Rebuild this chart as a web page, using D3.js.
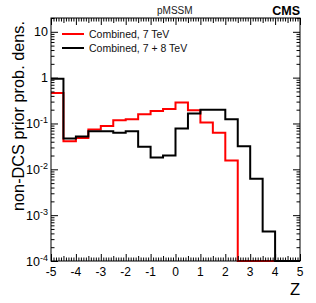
<!DOCTYPE html>
<html>
<head>
<meta charset="utf-8">
<script src="https://cdn.jsdelivr.net/npm/d3@7"></script>
<style>
  body { margin: 0; background: #fff; }
  svg text { font-family: "Liberation Sans", Arial, Helvetica, sans-serif; }
</style>
</head>
<body>
<div id="chart"></div>
<script>
// bin lower edges in Z (bin width 0.5)
const binEdges = [-5, -4.5, -4, -3.5, -3, -2.5, -2, -1.5, -1, -0.5, 0, 0.5, 1, 1.5, 2, 2.5, 3, 3.5, 4, 4.5, 5];

const red7 = [0.46, 0.041, 0.048, 0.074, 0.088, 0.117, 0.123, 0.159, 0.188, 0.208,
              0.287, 0.195, 0.105, 0.063, 0.0156, 0, 0, 0, 0, 0];
const black78 = [0.95, 0.047, 0.052, 0.068, 0.068, 0.063, 0.068, 0.031, 0.018, 0.020,
                 0.078, 0.165, 0.2, 0.2, 0.123, 0.032, 0.0062, 0.00044, 0, 0];

const legendLabels = ["Combined, 7 TeV", "Combined, 7 + 8 TeV"];
const xTickLabels = [-5, -4, -3, -2, -1, 0, 1, 2, 3, 4, 5];
const yDecades = [1e-4, 1e-3, 1e-2, 1e-1, 1, 10];

const width = 316, height = 303;
const frame = { left: 51, right: 300, top: 18, bottom: 261 };

const svg = d3.select("#chart").append("svg")
    .attr("width", width)
    .attr("height", height);

const x = d3.scaleLinear().domain([-5, 5]).range([frame.left, frame.right]);
const y = d3.scaleLog().domain([1e-4, 20]).range([frame.bottom, frame.top]);
const yMin = 1e-4;

svg.append("clipPath").attr("id", "clip")
    .append("rect")
    .attr("x", frame.left - 1)
    .attr("y", frame.top)
    .attr("width", frame.right - frame.left + 2)
    .attr("height", frame.bottom - frame.top + 1);

// histogram outline as a step line
function histPath(values) {
    const pts = [];
    values.forEach((v, i) => {
        const yy = y(Math.max(v, yMin));
        pts.push([x(binEdges[i]), yy]);
        pts.push([x(binEdges[i + 1]), yy]);
    });
    return d3.line()(pts);
}

const plot = svg.append("g").attr("clip-path", "url(#clip)");

plot.append("path")
    .attr("d", histPath(red7))
    .attr("fill", "none")
    .attr("stroke", "#ff0000")
    .attr("stroke-width", 2);

plot.append("path")
    .attr("d", histPath(black78))
    .attr("fill", "none")
    .attr("stroke", "#000")
    .attr("stroke-width", 2);

// minor tick positions
const xMinor = d3.range(-50, 51).map(d => d / 10).filter(d => Math.abs(d * 2 - Math.round(d * 2)) > 1e-6);
const xMedium = d3.range(-9, 10, 2).map(d => d / 2);
const yMinor = [];
yDecades.forEach(dec => {
    for (let k = 2; k <= 9; k++) {
        const v = dec * k;
        if (v <= 20) yMinor.push(v);
    }
});

function tickAxis(axisFn, scale, values, size, transform) {
    svg.append("g")
        .attr("transform", transform)
        .call(axisFn(scale).tickValues(values).tickSize(size).tickFormat(""))
        .call(g => g.select(".domain").remove())
        .selectAll("line").attr("stroke", "#000").attr("stroke-width", 1);
}

// bottom and top ticks (inward)
tickAxis(d3.axisBottom, x, xTickLabels, -7, `translate(0,${frame.bottom})`);
tickAxis(d3.axisBottom, x, xMedium, -5, `translate(0,${frame.bottom})`);
tickAxis(d3.axisBottom, x, xMinor, -3.5, `translate(0,${frame.bottom})`);
tickAxis(d3.axisTop, x, xTickLabels, -7, `translate(0,${frame.top})`);
tickAxis(d3.axisTop, x, xMedium, -5, `translate(0,${frame.top})`);
tickAxis(d3.axisTop, x, xMinor, -3.5, `translate(0,${frame.top})`);

// left and right ticks (inward)
tickAxis(d3.axisLeft, y, yDecades, -7, `translate(${frame.left},0)`);
tickAxis(d3.axisLeft, y, yMinor, -3.5, `translate(${frame.left},0)`);
tickAxis(d3.axisRight, y, yDecades, -7, `translate(${frame.right},0)`);
tickAxis(d3.axisRight, y, yMinor, -3.5, `translate(${frame.right},0)`);

// frame
svg.append("rect")
    .attr("x", frame.left)
    .attr("y", frame.top)
    .attr("width", frame.right - frame.left)
    .attr("height", frame.bottom - frame.top)
    .attr("fill", "none")
    .attr("stroke", "#000")
    .attr("stroke-width", 1);

// x tick labels
svg.append("g").selectAll("text")
    .data(xTickLabels)
    .enter()
    .append("text")
    .attr("x", d => x(d))
    .attr("y", 276)
    .attr("text-anchor", "middle")
    .style("font-size", "12px")
    .text(d => d);

// y tick labels with superscripts
const yLab = svg.append("g").selectAll("text")
    .data(yDecades)
    .enter()
    .append("text")
    .attr("x", 48)
    .attr("y", d => y(d) + 4.5)
    .attr("text-anchor", "end")
    .style("font-size", "12.5px");

yLab.each(function (d) {
    const t = d3.select(this);
    const p = Math.round(Math.log10(d));
    if (p === 0) {
        t.text("1");
    } else if (p === 1) {
        t.text("10");
    } else {
        t.append("tspan").text("10");
        t.append("tspan")
            .attr("dy", -5)
            .style("font-size", "9px")
            .text(p);
    }
});

// axis titles
svg.append("text")
    .attr("x", 300)
    .attr("y", 295)
    .attr("text-anchor", "end")
    .style("font-size", "16.5px")
    .text("Z");

svg.append("text")
    .attr("transform", "translate(24,116) rotate(-90)")
    .attr("text-anchor", "middle")
    .style("font-size", "16.3px")
    .text("non-DCS prior prob. dens.");

// header
svg.append("text")
    .attr("x", 157)
    .attr("y", 14)
    .style("font-size", "10px")
    .attr("fill", "#222")
    .text("pMSSM");

svg.append("text")
    .attr("x", 300)
    .attr("y", 15)
    .attr("text-anchor", "end")
    .style("font-size", "12.5px")
    .style("font-weight", "bold")
    .text("CMS");

// legend
const legendColors = ["#ff0000", "#000"];
const legend = svg.append("g");
legendLabels.forEach((lab, i) => {
    const ly = 34 + i * 14;
    legend.append("line")
        .attr("x1", 62).attr("x2", 84)
        .attr("y1", ly).attr("y2", ly)
        .attr("stroke", legendColors[i])
        .attr("stroke-width", 2);
    legend.append("text")
        .attr("x", 89)
        .attr("y", ly + 3.7)
        .style("font-size", "10.5px")
        .attr("fill", "#111")
        .text(lab);
});
</script>
</body>
</html>
